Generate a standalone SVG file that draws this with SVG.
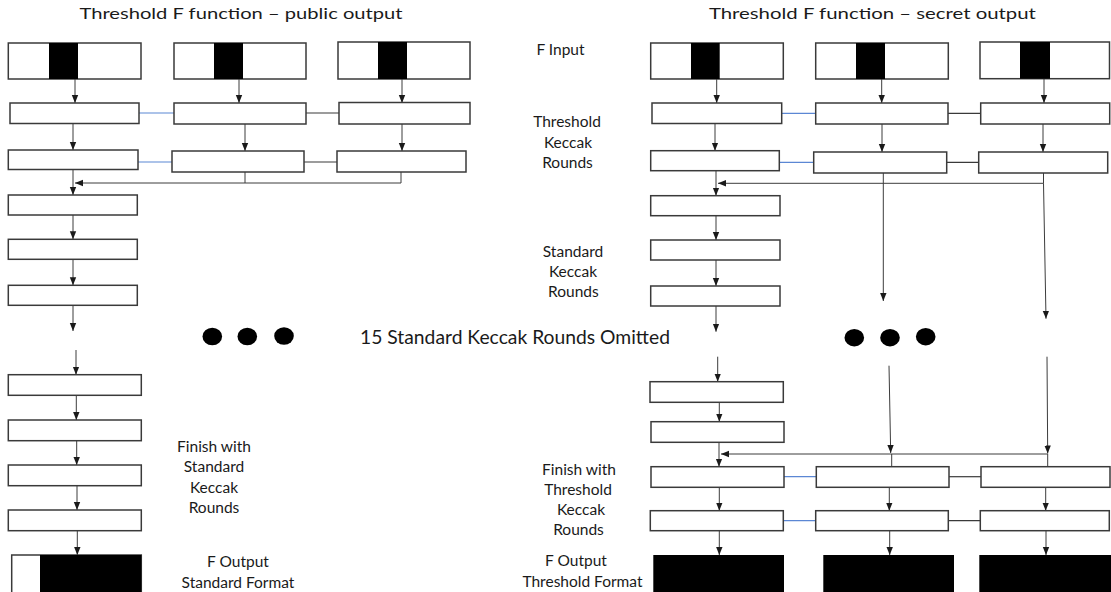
<svg xmlns="http://www.w3.org/2000/svg" width="1111" height="592" viewBox="0 0 1111 592">
<defs>
<marker id="ah" markerUnits="userSpaceOnUse" markerWidth="9" markerHeight="8" refX="8" refY="4" orient="auto">
<path d="M0,0.8 L8,4 L0,7.2 z" fill="#1a1a1a"/>
</marker>
</defs>
<style>
.bx{fill:#fff;stroke:#3a3a3a;stroke-width:1.5}
.blk{fill:#000}
.ob{fill:#000;stroke:none}
.ln{fill:none;stroke:#3c3c3c;stroke-width:1}
.ar{fill:none;stroke:#3c3c3c;stroke-width:1;marker-end:url(#ah)}
.bl{fill:none;stroke:#5b87d4;stroke-width:1.2}
.kl{fill:none;stroke:#3a3a3a;stroke-width:1.2}
.t{font-family:Lato,"Open Sans",sans-serif;fill:#1a1a1a;text-anchor:middle}
.lb{font-size:15.5px}
.tt{font-size:15.5px}
.ct{font-size:19.3px}
.dot{fill:#000}
</style>
<rect width="1111" height="592" fill="#fff"/>

<g id="titles">
<text class="t tt" x="241" y="19" textLength="323" lengthAdjust="spacingAndGlyphs">Threshold F function – public output</text>
<text class="t tt" x="872.4" y="19" textLength="327" lengthAdjust="spacingAndGlyphs">Threshold F function – secret output</text>
</g>

<g id="connectors">
<!-- left diagram -->
<line class="ar" x1="75" y1="79" x2="75" y2="103"/>
<line class="ar" x1="239" y1="79" x2="239" y2="103"/>
<line class="ar" x1="402" y1="79" x2="402" y2="103"/>
<line class="ar" x1="73" y1="123.5" x2="73" y2="150"/>
<line class="ar" x1="245" y1="124" x2="245" y2="151"/>
<line class="ar" x1="402" y1="124" x2="402" y2="151"/>
<line class="ar" x1="73" y1="169.5" x2="73" y2="195"/>
<path class="ar" d="M401,172 V183 H75"/>
<line class="ln" x1="245" y1="172" x2="245" y2="183"/>
<line class="ar" x1="73" y1="215" x2="73" y2="239.3"/>
<line class="ar" x1="73" y1="259.3" x2="73" y2="285.3"/>
<line class="ar" x1="73" y1="305.3" x2="73" y2="331"/>
<line class="ar" x1="76" y1="350" x2="76" y2="374.7"/>
<line class="ar" x1="76.3" y1="395.3" x2="76.3" y2="420"/>
<line class="ar" x1="76.7" y1="440.7" x2="76.7" y2="465"/>
<line class="ar" x1="77" y1="485.7" x2="77" y2="510"/>
<line class="ar" x1="77.3" y1="530.7" x2="77.3" y2="555"/>
<line class="bl" x1="139" y1="113" x2="174" y2="113"/>
<line class="kl" x1="306" y1="113" x2="339" y2="113"/>
<line class="bl" x1="138" y1="162" x2="172" y2="162"/>
<line class="kl" x1="304" y1="162" x2="337" y2="162"/>
<!-- right diagram -->
<line class="ar" x1="716.7" y1="79" x2="716.7" y2="103"/>
<line class="ar" x1="881.7" y1="79" x2="881.7" y2="103"/>
<line class="ar" x1="1044" y1="79" x2="1044" y2="103"/>
<line class="ar" x1="715" y1="123.5" x2="715" y2="150.7"/>
<line class="ar" x1="882" y1="124" x2="882" y2="152"/>
<line class="ar" x1="1043" y1="124" x2="1043" y2="152"/>
<line class="ar" x1="716" y1="170.7" x2="716" y2="195.7"/>
<path class="ar" d="M1043.5,173 V183.3 H718"/>
<line class="ar" x1="883.3" y1="173" x2="883.3" y2="301"/>
<line class="ar" x1="1043.5" y1="183.3" x2="1046" y2="318.7"/>
<line class="ar" x1="716" y1="215.7" x2="716" y2="240"/>
<line class="ar" x1="716" y1="260" x2="716" y2="286"/>
<line class="ar" x1="716" y1="306" x2="716" y2="331.7"/>
<line class="ar" x1="717.7" y1="356.7" x2="717.7" y2="381.7"/>
<line class="ar" x1="719.3" y1="402.3" x2="719.3" y2="421.7"/>
<line class="ar" x1="719" y1="442.3" x2="719" y2="466.7"/>
<line class="ar" x1="889" y1="365.7" x2="890.7" y2="453"/>
<line class="ar" x1="1047" y1="356.7" x2="1047.7" y2="453.5"/>
<path class="ar" d="M1047.7,454 H721"/>
<line class="ln" x1="891.7" y1="454" x2="891.7" y2="466.7"/>
<line class="ln" x1="1047.7" y1="454" x2="1047.7" y2="466.7"/>
<line class="ar" x1="719.3" y1="487.3" x2="719.3" y2="510.7"/>
<line class="ar" x1="889.3" y1="487.3" x2="889.3" y2="510.7"/>
<line class="ar" x1="1045.7" y1="487.3" x2="1045.7" y2="510.7"/>
<line class="ar" x1="719.3" y1="530.7" x2="719.3" y2="555"/>
<line class="ar" x1="889.7" y1="530.7" x2="889.7" y2="555"/>
<line class="ar" x1="1046" y1="530.7" x2="1046" y2="555"/>
<line class="bl" x1="781.7" y1="113.3" x2="815.7" y2="113.3"/>
<line class="kl" x1="948" y1="113.3" x2="980.7" y2="113.3"/>
<line class="bl" x1="779.3" y1="162.3" x2="813.7" y2="162.3"/>
<line class="kl" x1="946.7" y1="162.3" x2="978.7" y2="162.3"/>
<line class="bl" x1="784" y1="476.7" x2="816.3" y2="476.7"/>
<line class="kl" x1="949" y1="476.7" x2="981" y2="476.7"/>
<line class="bl" x1="783.3" y1="520.7" x2="815.7" y2="520.7"/>
<line class="kl" x1="948.3" y1="520.7" x2="980.3" y2="520.7"/>
</g>

<!-- left diagram nodes -->
<g id="L-in-1"><rect class="bx" x="8.3" y="43" width="132.7" height="36"/><rect class="blk" x="49" y="43" width="29" height="36"/></g>
<g id="L-in-2"><rect class="bx" x="174" y="43" width="132" height="36"/><rect class="blk" x="214" y="43" width="29" height="36"/></g>
<g id="L-in-3"><rect class="bx" x="338" y="42" width="132" height="37"/><rect class="blk" x="378" y="42" width="29" height="37"/></g>
<g id="L-t1-1"><rect class="bx" x="10" y="103" width="129" height="20.5"/></g>
<g id="L-t1-2"><rect class="bx" x="174" y="103" width="132" height="21"/></g>
<g id="L-t1-3"><rect class="bx" x="339" y="102.5" width="131" height="21.5"/></g>
<g id="L-t2-1"><rect class="bx" x="8.3" y="150" width="129.7" height="19.5"/></g>
<g id="L-t2-2"><rect class="bx" x="172" y="151" width="132" height="21"/></g>
<g id="L-t2-3"><rect class="bx" x="337" y="151" width="129" height="21"/></g>
<g id="L-s1"><rect class="bx" x="8.3" y="195" width="129" height="20"/></g>
<g id="L-s2"><rect class="bx" x="8.3" y="239.3" width="129" height="20"/></g>
<g id="L-s3"><rect class="bx" x="8.3" y="285.3" width="129" height="20"/></g>
<g id="L-f1"><rect class="bx" x="8.3" y="374.7" width="133" height="20.6"/></g>
<g id="L-f2"><rect class="bx" x="8.3" y="420" width="133" height="20.7"/></g>
<g id="L-f3"><rect class="bx" x="8.3" y="465" width="133" height="20.7"/></g>
<g id="L-f4"><rect class="bx" x="8.3" y="510" width="133" height="20.7"/></g>
<g id="L-out"><rect class="bx" x="11.7" y="555" width="129.6" height="40"/><rect class="ob" x="40" y="555" width="101.3" height="40"/></g>

<!-- right diagram nodes -->
<g id="R-in-1"><rect class="bx" x="650.7" y="43" width="132.6" height="36"/><rect class="blk" x="691" y="43" width="28.7" height="36"/></g>
<g id="R-in-2"><rect class="bx" x="815.7" y="43" width="132.6" height="36"/><rect class="blk" x="856" y="43" width="29" height="36"/></g>
<g id="R-in-3"><rect class="bx" x="980" y="42" width="129.5" height="36.7"/><rect class="blk" x="1020" y="42" width="30" height="36.7"/></g>
<g id="R-t1-1"><rect class="bx" x="652" y="103" width="129.7" height="20.5"/></g>
<g id="R-t1-2"><rect class="bx" x="815.7" y="103" width="132.3" height="21"/></g>
<g id="R-t1-3"><rect class="bx" x="980.7" y="103" width="129" height="21"/></g>
<g id="R-t2-1"><rect class="bx" x="650.7" y="150.7" width="128.6" height="20"/></g>
<g id="R-t2-2"><rect class="bx" x="813.7" y="152" width="133" height="21"/></g>
<g id="R-t2-3"><rect class="bx" x="978.7" y="152" width="129" height="21"/></g>
<g id="R-s1"><rect class="bx" x="650.7" y="195.7" width="129.3" height="20"/></g>
<g id="R-s2"><rect class="bx" x="650.7" y="240" width="129.3" height="20"/></g>
<g id="R-s3"><rect class="bx" x="650.7" y="286" width="129.3" height="20"/></g>
<g id="R-s4"><rect class="bx" x="650" y="381.7" width="133.3" height="20.6"/></g>
<g id="R-s5"><rect class="bx" x="651" y="421.7" width="133" height="20.6"/></g>
<g id="R-f1-1"><rect class="bx" x="651" y="466.7" width="133" height="20.6"/></g>
<g id="R-f1-2"><rect class="bx" x="816.3" y="466.7" width="132.7" height="20.6"/></g>
<g id="R-f1-3"><rect class="bx" x="981" y="466.7" width="129" height="20.6"/></g>
<g id="R-f2-1"><rect class="bx" x="650.3" y="510.7" width="133" height="20"/></g>
<g id="R-f2-2"><rect class="bx" x="815.7" y="510.7" width="132.6" height="20"/></g>
<g id="R-f2-3"><rect class="bx" x="980.3" y="510.7" width="129" height="20"/></g>
<g id="R-out-1"><rect class="ob" x="653.3" y="555" width="130.7" height="40"/></g>
<g id="R-out-2"><rect class="ob" x="823.3" y="555" width="130.7" height="40"/></g>
<g id="R-out-3"><rect class="ob" x="979.3" y="555" width="132" height="40"/></g>

<g id="ellipsis">
<ellipse class="dot" cx="212.3" cy="336.5" rx="9.8" ry="8.7"/>
<ellipse class="dot" cx="247.3" cy="336.5" rx="9.8" ry="8.7"/>
<ellipse class="dot" cx="284" cy="336" rx="9.8" ry="8.7"/>
<ellipse class="dot" cx="854.3" cy="337.7" rx="9.8" ry="8.7"/>
<ellipse class="dot" cx="890" cy="337.7" rx="9.8" ry="8.7"/>
<ellipse class="dot" cx="925.7" cy="336.7" rx="9.8" ry="8.7"/>
</g>

<g id="labels">
<text class="t ct" x="515" y="344.3">15 Standard Keccak Rounds Omitted</text>
<text class="t lb" x="214"><tspan x="214" y="451.5">Finish with</tspan><tspan x="214" y="472">Standard</tspan><tspan x="214" y="492.5">Keccak</tspan><tspan x="214" y="512.5">Rounds</tspan></text>
<text class="t lb" x="238"><tspan x="238" y="567">F Output</tspan><tspan x="238" y="587.5">Standard Format</tspan></text>
<text class="t lb" x="560.5" y="55">F Input</text>
<text class="t lb" x="567.5"><tspan x="567" y="127">Threshold</tspan><tspan x="568" y="148">Keccak</tspan><tspan x="567.5" y="168">Rounds</tspan></text>
<text class="t lb" x="573"><tspan x="573" y="256.5">Standard</tspan><tspan x="573" y="276.5">Keccak</tspan><tspan x="573.4" y="296.5">Rounds</tspan></text>
<text class="t lb" x="579"><tspan x="579" y="475">Finish with</tspan><tspan x="578" y="495">Threshold</tspan><tspan x="581" y="515">Keccak</tspan><tspan x="578.5" y="535">Rounds</tspan></text>
<text class="t lb" x="576"><tspan x="576" y="566">F Output</tspan><tspan x="582.5" y="586.5">Threshold Format</tspan></text>
</g>
</svg>
